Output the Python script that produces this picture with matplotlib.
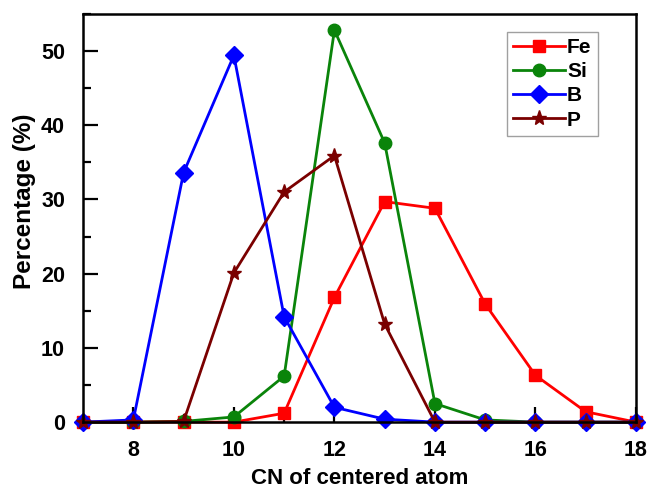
import matplotlib
matplotlib.use('Agg')
import matplotlib.pyplot as plt
from matplotlib.ticker import MultipleLocator

plt.rcParams['font.family'] = ['Liberation Sans', 'DejaVu Sans']
plt.rcParams['font.weight'] = 'bold'

# CN values and percentage for each element
cn = [7, 8, 9, 10, 11, 12, 13, 14, 15, 16, 17, 18]
fe = [0, 0, 0, 0, 1.2, 16.8, 29.7, 28.8, 15.9, 6.3, 1.4, 0]
si = [0, 0, 0.1, 0.7, 6.2, 52.8, 37.6, 2.5, 0.3, 0, 0, 0]
b = [0, 0.3, 33.6, 49.4, 14.2, 2.0, 0.4, 0, 0, 0, 0, 0]
p = [0, 0, 0.1, 20.1, 31.0, 35.9, 13.2, 0, 0, 0, 0, 0]

fig = plt.figure(figsize=(6.49, 4.92), dpi=100)
ax = fig.add_axes([0.128, 0.142, 0.852, 0.830])

lw = 2.0
ax.plot(cn, fe, color='#ff0000', marker='s', markersize=8, lw=lw, label='Fe', clip_on=False)
ax.plot(cn, si, color='#0a840a', marker='o', markersize=9, lw=lw, label='Si', clip_on=False)
ax.plot(cn, b, color='#0000ff', marker='D', markersize=9.5, lw=lw, label='B', clip_on=False)
ax.plot(cn, p, color='#7a0000', marker='*', markersize=11, lw=lw, label='P', clip_on=False)

ax.set_xlim(7, 18)
ax.set_ylim(0, 55)
ax.xaxis.set_major_locator(MultipleLocator(2))
ax.xaxis.set_minor_locator(MultipleLocator(1))
ax.yaxis.set_major_locator(MultipleLocator(10))
ax.yaxis.set_minor_locator(MultipleLocator(5))
ax.tick_params(which='major', direction='in', length=11, width=1.6, labelsize=15.5)
ax.tick_params(axis='x', which='major', pad=13)
ax.tick_params(axis='y', which='major', pad=13)
ax.tick_params(which='minor', direction='in', length=6, width=1.6)
ax.tick_params(axis='y', which='both', right=False)
ax.tick_params(axis='x', which='both', top=False)
for s in ax.spines.values():
    s.set_linewidth(1.8)

ax.set_xlabel('CN of centered atom', fontsize=16, fontweight='bold')
ax.set_ylabel('Percentage (%)', fontsize=17.5, fontweight='bold')
ax.xaxis.set_label_coords(0.5, -0.113)
ax.yaxis.set_label_coords(-0.086, 0.54)

leg = ax.legend(loc='upper right', bbox_to_anchor=(0.931, 0.956), fontsize=15,
                fancybox=False, edgecolor='#888888', handlelength=2.5,
                handletextpad=0.1, borderpad=0.3, labelspacing=0.25,
                borderaxespad=0.0)
leg.get_frame().set_linewidth(1.0)

fig.savefig('out.png', dpi=100)
